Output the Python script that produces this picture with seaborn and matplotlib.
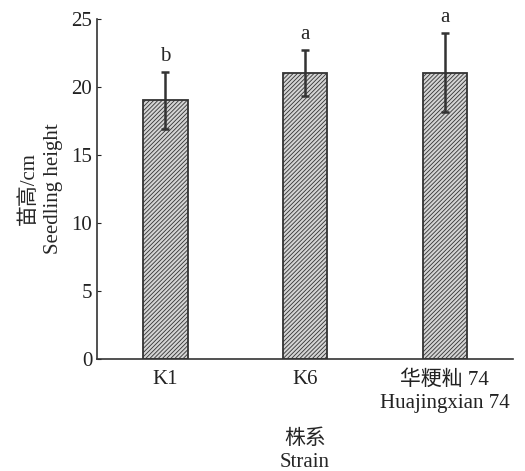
import matplotlib
matplotlib.use("Agg")
import matplotlib.pyplot as plt
import seaborn as sns
import pandas as pd

strains = ["K1", "K6", "华粳籼 74\nHuajingxian 74"]
heights = [19.0, 21.0, 21.05]
errors = [2.1, 1.7, 2.9]
letters = ["b", "a", "a"]

sns.set_style("ticks")
plt.rcParams['font.family'] = ['Liberation Serif', 'Noto Sans CJK SC', 'DejaVu Sans']
plt.rcParams['hatch.color'] = '#7a7a7a'
plt.rcParams['hatch.linewidth'] = 0.6

df = pd.DataFrame({"strain": strains, "height": heights})

fig = plt.figure(figsize=(5.25, 4.71), dpi=100)
ax = fig.add_axes([0.185, 0.238, 0.792, 0.722])

sns.barplot(data=df, x="strain", y="height", ax=ax, width=0.32,
            color="#d4d4d4", edgecolor="#333333", linewidth=1.3,
            hatch="////////", errorbar=None, saturation=1)

xs = range(len(strains))
ax.errorbar(xs, heights, yerr=errors, fmt="none", ecolor="#333333",
            elinewidth=1.8, capsize=3, capthick=1.8)
for x, h, e, t in zip(xs, heights, errors, letters):
    ax.text(x, h + e + 0.45, t, ha="center", va="bottom", fontsize=15)

ax.set_ylim(0, 25)
ax.set_xlim(-0.486, 2.486)
ax.set_yticks([0, 5, 10, 15, 20, 25])
ax.tick_params(axis="both", labelsize=15, direction="in", length=3, colors="#222222")
ax.tick_params(axis="x", length=0, pad=8)
for lab in ax.get_xticklabels():
    lab.set_linespacing(1.3)
ax.set_ylabel("苗高/cm\nSeedling height", fontsize=15, linespacing=1.35, labelpad=6)
ax.set_xlabel("株系\nStrain", fontsize=15, linespacing=1.25, labelpad=12)
for s in ["top", "right"]:
    ax.spines[s].set_visible(False)
for s in ["left", "bottom"]:
    ax.spines[s].set_color("#333333")
    ax.spines[s].set_linewidth(1.2)

fig.savefig("out.png", dpi=100)
